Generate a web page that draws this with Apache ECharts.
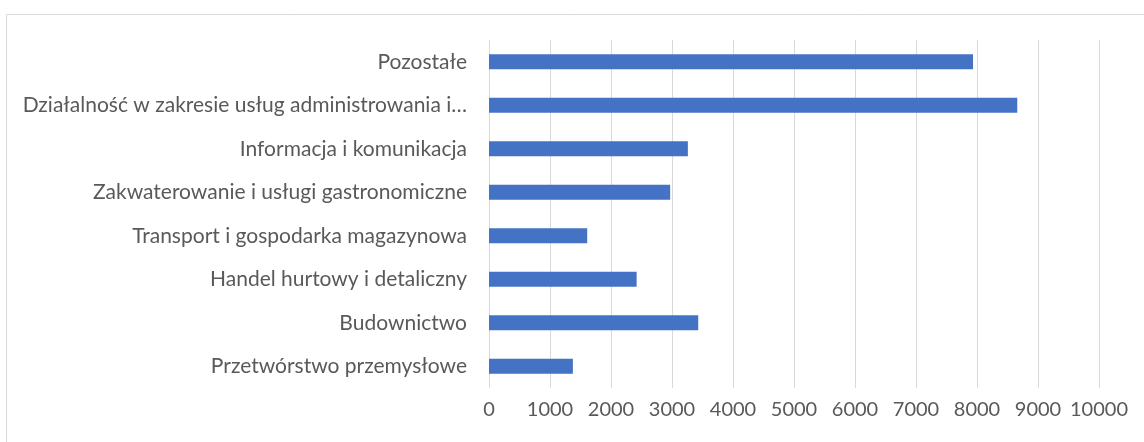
<!DOCTYPE html>
<html>
<head>
<meta charset="utf-8">
<script src="https://cdn.jsdelivr.net/npm/echarts@6/dist/echarts.min.js"></script>
<style>
  html, body { margin: 0; padding: 0; background: #fff; }
  #main { width: 1144px; height: 442px; }
</style>
</head>
<body>
<div id="main"></div>
<script>
// kategorie od dołu do góry (oś Y odwrócona jak w Excelu)
var categories = [
  'Przetwórstwo przemysłowe',
  'Budownictwo',
  'Handel hurtowy i detaliczny',
  'Transport i gospodarka magazynowa',
  'Zakwaterowanie i usługi gastronomiczne',
  'Informacja i komunikacja',
  'Działalność w zakresie usług administrowania i…',
  'Pozostałe'
];
var values = [1375, 3430, 2420, 1610, 2970, 3260, 8660, 7935];
var xTicks = [0, 10000, 1000]; // min, max, interval

var myChart = echarts.init(document.getElementById('main'));

var option = {
  animation: false,
  textStyle: { fontFamily: 'Lato' },
  graphic: [
    {
      type: 'rect',
      left: 4, top: 12,
      shape: { width: 1160, height: 450 },
      style: { fill: 'none', stroke: '#d9d9d9', lineWidth: 1 }
    }
  ],
  grid: { left: 489, right: 45, top: 40, bottom: 54 },
  xAxis: {
    type: 'value',
    min: xTicks[0],
    max: xTicks[1],
    interval: xTicks[2],
    axisLine: { show: false },
    axisTick: { show: false },
    splitLine: { lineStyle: { color: '#d9d9d9', width: 1 } },
    axisLabel: {
      color: '#595959', fontSize: 20, margin: 12,
      formatter: function (v) { return String(v); }
    }
  },
  yAxis: {
    type: 'category',
    data: categories,
    axisLine: { show: false },
    axisTick: { show: false },
    axisLabel: { color: '#595959', fontSize: 21, margin: 22 }
  },
  series: [
    {
      type: 'bar',
      data: values,
      barWidth: '35%',
      itemStyle: { color: '#4472C4' }
    }
  ]
};
myChart.setOption(option);
</script>
</body>
</html>
